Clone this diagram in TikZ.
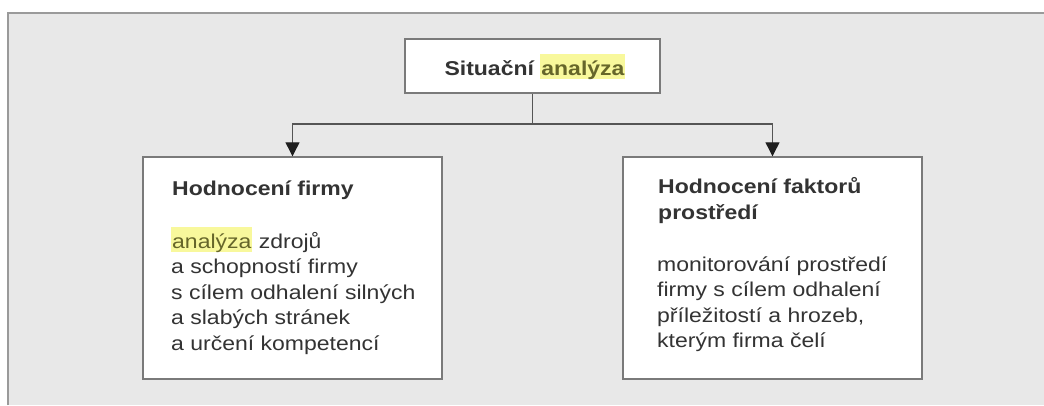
\documentclass[tikz,border=0pt]{standalone}
\usepackage{fontspec}
\setmainfont{Liberation Sans}[FakeStretch=1.15]
\usetikzlibrary{arrows.meta}
\definecolor{panel}{HTML}{E8E8E8}
\definecolor{panelline}{HTML}{9A9A9A}
\definecolor{boxline}{HTML}{7A7A7A}
\definecolor{conn}{HTML}{555555}
\definecolor{tip}{HTML}{1E1E1E}
\definecolor{hly}{HTML}{F8F89C}
\definecolor{hltext}{HTML}{66662A}
\definecolor{txt}{HTML}{333333}
\newcommand{\hlword}[1]{{\setlength{\fboxsep}{0pt}\colorbox{hly}{\hspace{1pt}\rule[-4pt]{0pt}{25pt}\color{hltext}#1\hspace{1pt}}}}
\newcommand{\txtlines}[1]{\begin{tabular}[t]{@{}l@{}}#1\end{tabular}}
\tikzset{
  box/.style={draw=boxline, line width=1.4pt, fill=white, inner sep=0pt},
  conline/.style={draw=conn, line width=1.2pt},
  arr/.style={conline, -{Triangle[width=14pt,length=14pt,fill=tip,color=tip]}},
  title/.style={font=\fontsize{20}{26}\selectfont\bfseries, text=txt, inner sep=0pt, anchor=base west},
  body/.style={font=\fontsize{20}{25.5}\selectfont, text=txt, inner sep=0pt, anchor=base west},
}
\begin{document}
\begin{tikzpicture}[x=1pt,y=-1pt]
\useasboundingbox (0,0) rectangle (1044,405);
\fill[white] (0,0) rectangle (1044,405);
\fill[panel] (8,13) rectangle (1044,405);
\draw[panelline, line width=1.6pt] (8,405) -- (8,13) -- (1044,13);
% boxes
\node[box, minimum width=255pt, minimum height=54pt] (top) at (532.5,66) {};
\node[box, minimum width=299pt, minimum height=222pt] (L) at (292.5,268) {};
\node[box, minimum width=299pt, minimum height=222pt] (R) at (772.5,268) {};
% texts
\node[font=\fontsize{20}{24}\selectfont\bfseries, text=txt, inner sep=0pt, anchor=base] (toptext) at (535,75) {Situační \hlword{analýza}};
\node[title] (Ltitle) at (172,195) {Hodnocení firmy};
\node[body] (Lbody) at (171,248) {\txtlines{\hlword{analýza} zdrojů\\a schopností firmy\\s cílem odhalení silných\\a slabých stránek\\a určení kompetencí}};
\node[title] (Rtitle) at (658,193) {\txtlines{Hodnocení faktorů\\prostředí}};
\node[body] (Rbody) at (657,271) {\txtlines{monitorování prostředí\\firmy s cílem odhalení\\příležitostí a hrozeb,\\kterým firma čelí}};
% connectors
\coordinate (j) at (532.5,124);
\draw[conline] (top.south) -- (j);
\draw[arr] (j) -| (L.north);
\draw[arr] (j) -| (R.north);
\end{tikzpicture}
\end{document}
